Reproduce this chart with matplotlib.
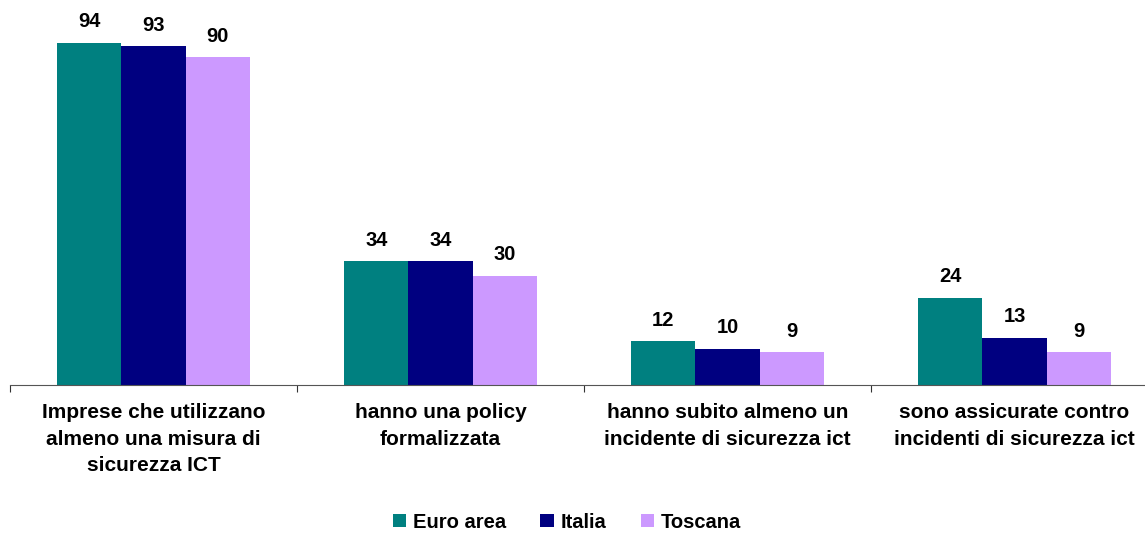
import numpy as np
import matplotlib.pyplot as plt

plt.rcParams['font.family'] = ['Liberation Sans', 'DejaVu Sans']
plt.rcParams['font.weight'] = 'bold'

# categorie e valori (%)
categorie = ['Imprese che utilizzano\nalmeno una misura di\nsicurezza ICT',
             'hanno una policy\nformalizzata',
             'hanno subito almeno un\nincidente di sicurezza ict',
             'sono assicurate contro\nincidenti di sicurezza ict']
serie = ['Euro area', 'Italia', 'Toscana']
euro_area = [94, 34, 12, 24]
italia = [93, 34, 10, 13]
toscana = [90, 30, 9, 9]
colori = ['#008080', '#000080', '#CC99FF']

fig = plt.figure(figsize=(11.45, 5.33), dpi=100)
# l'asse prosegue oltre il bordo destro della figura
ax = fig.add_axes([10 / 1145, 148 / 533, 1148 / 1145, 364 / 533])

x = np.arange(len(categorie))
w = 0.224
for i, (nome, valori) in enumerate(zip(serie, [euro_area, italia, toscana])):
    pos = x + (i - 1) * w
    ax.bar(pos, valori, width=w, color=colori[i], label=nome)
    for px, v in zip(pos, valori):
        ax.text(px, v + 3.2, str(v), ha='center', va='bottom',
                fontsize=14.5, fontweight='bold', clip_on=False)

ax.set_xlim(-0.5, 3.5)
ax.set_ylim(0, 100)
for s in ['top', 'right', 'left']:
    ax.spines[s].set_visible(False)
ax.spines['bottom'].set_color('#555555')
ax.set_yticks([])

# tacche di separazione tra i gruppi
ax.set_xticks(np.arange(-0.5, 3.6, 1.0))
ax.set_xticklabels([])
ax.tick_params(axis='x', length=5, color='#333333', direction='out')
for xi, lab in zip(x, categorie):
    ax.text(xi, -5.0, lab, ha='center', va='top', fontsize=15,
            fontweight='bold', linespacing=1.5)

ax.legend(loc='center', ncol=3, frameon=False, borderaxespad=0,
          borderpad=0.1, fontsize=14.5, handlelength=0.65, handleheight=0.65,
          handletextpad=0.35, columnspacing=1.7)
ax.get_legend().set_bbox_to_anchor((567 / 1145, 11 / 533), transform=fig.transFigure)

fig.savefig('out.png', dpi=100)
